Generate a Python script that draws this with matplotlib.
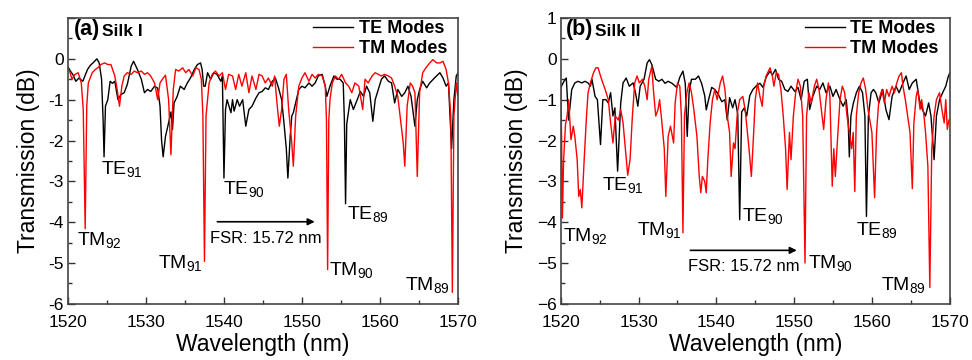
import numpy as np
import matplotlib
matplotlib.use("Agg")
import matplotlib.pyplot as plt

plt.rcParams['font.family'] = ['Liberation Sans', 'DejaVu Sans']
plt.rcParams['mathtext.default'] = 'regular'

#-----------------------
# Data (wavelength nm, transmission dB)
#-----------------------
te_a = [(1520.0,-0.2),(1520.3,-0.3),(1520.6,-0.38),(1521.0,-0.55),(1521.4,-0.47),(1521.9,-0.55),(1522.2,-0.4),
        (1522.5,-0.26),(1522.9,-0.15),(1523.2,-0.1),(1523.7,0.0),(1524.0,-0.1),(1524.3,-0.5),(1524.5,-1.5),
        (1524.62,-2.4),(1524.8,-1.16),(1525.1,-1.0),(1525.4,-0.55),(1525.7,-0.6),(1526.0,-0.55),(1526.4,-1.0),
        (1526.8,-0.87),(1527.2,-0.83),(1527.6,-0.63),(1528.1,-0.18),(1528.4,-0.06),(1528.9,-0.26),(1529.4,-0.5),
        (1529.8,-0.83),(1530.2,-0.75),(1530.6,-0.8),(1531.1,-0.67),(1531.5,-0.72),(1531.8,-1.16),(1532.0,-2.0),
        (1532.2,-2.4),(1532.5,-1.9),(1532.8,-1.65),(1533.2,-1.3),(1533.4,-1.73),(1533.6,-1.08),(1534.0,-0.92),
        (1534.4,-0.67),(1534.9,-0.75),(1535.3,-0.59),(1535.7,-0.47),(1536.2,-0.26),(1536.6,-0.14),(1537.0,-0.1),
        (1537.2,-0.26),(1537.4,-0.67),(1537.6,-0.67),(1537.9,-0.34),(1538.3,-0.5),(1538.7,-0.34),(1539.1,-0.38),
        (1539.6,-0.55),(1539.8,-0.42),(1540.0,-2.92),(1540.2,-1.24),(1540.4,-1.0),(1540.9,-1.32),(1541.1,-1.0),
        (1541.3,-1.28),(1541.7,-1.0),(1542.0,-1.16),(1542.4,-1.0),(1542.8,-1.65),(1543.2,-1.24),(1543.6,-1.16),
        (1544.1,-0.96),(1544.5,-0.83),(1544.9,-0.8),(1545.3,-0.71),(1545.7,-0.75),(1546.2,-0.55),(1546.6,-0.47),
        (1547.0,-0.71),(1547.4,-1.0),(1547.7,-1.57),(1548.0,-2.2),(1548.2,-2.92),(1548.5,-1.9),(1548.7,-1.4),
        (1548.9,-1.32),(1549.2,-1.08),(1549.6,-0.75),(1550.0,-0.67),(1550.4,-0.71),(1550.9,-0.59),(1551.3,-0.67),
        (1551.7,-0.59),(1552.1,-0.42),(1552.6,-0.38),(1553.0,-0.67),(1553.2,-0.92),(1553.6,-0.67),(1554.1,-0.42),
        (1554.5,-0.5),(1554.9,-0.5),(1555.3,-0.59),(1555.45,-1.5),(1555.6,-3.55),(1555.75,-1.6),(1555.9,-1.4),
        (1556.2,-1.0),(1556.6,-1.24),(1557.1,-1.0),(1557.5,-0.8),(1557.9,-0.92),(1558.3,-0.67),(1558.7,-0.83),
        (1559.1,-1.53),(1559.4,-1.0),(1559.8,-0.75),(1560.2,-0.5),(1560.6,-0.42),(1561.1,-0.55),(1561.5,-0.59),
        (1561.9,-1.08),(1562.3,-0.75),(1562.8,-0.92),(1563.2,-0.83),(1563.6,-0.67),(1564.0,-0.92),(1564.5,-1.65),
        (1564.8,-1.0),(1565.1,-0.75),(1565.5,-0.55),(1566.0,-0.71),(1566.4,-0.59),(1567.0,-0.47),(1567.7,-0.34),
        (1568.1,-0.47),(1568.5,-0.67),(1568.8,-0.59),(1569.2,-2.2),(1569.5,-1.0),(1569.8,-0.42),(1570.0,-0.35)]

tm_a = [(1520.0,-0.25),(1520.2,-0.3),(1520.5,-0.5),(1520.9,-0.38),(1521.3,-0.34),(1521.7,-0.59),(1521.95,-1.24),
        (1522.2,-4.16),(1522.4,-1.16),(1522.6,-0.59),(1523.1,-0.34),(1523.5,-0.26),(1523.8,-0.22),(1524.2,-0.14),
        (1524.7,-0.1),(1525.1,-0.14),(1525.5,-0.14),(1526.0,-0.42),(1526.3,-0.75),(1526.6,-1.16),(1526.9,-0.67),
        (1527.2,-0.42),(1527.6,-0.34),(1528.1,-0.38),(1528.5,-0.3),(1528.9,-0.34),(1529.4,-0.3),(1529.8,-0.38),
        (1530.2,-0.34),(1530.6,-0.42),(1531.1,-0.59),(1531.5,-1.0),(1531.8,-0.59),(1532.1,-0.5),(1532.5,-0.4),
        (1532.9,-1.0),(1533.2,-2.35),(1533.5,-0.75),(1533.8,-0.26),(1534.2,-0.3),(1534.7,-0.22),(1535.1,-0.34),
        (1535.5,-0.26),(1536.0,-0.42),(1536.4,-0.22),(1536.8,-0.26),(1537.1,-0.5),(1537.3,-1.4),(1537.5,-4.96),
        (1537.7,-1.4),(1538.1,-0.59),(1538.5,-0.38),(1538.9,-0.3),(1539.4,-0.42),(1539.8,-0.34),(1540.2,-0.75),
        (1540.6,-0.38),(1541.1,-0.42),(1541.5,-0.75),(1541.9,-0.38),(1542.3,-0.67),(1542.8,-0.34),(1543.2,-0.83),
        (1543.6,-0.42),(1544.1,-0.75),(1544.5,-0.38),(1544.9,-0.42),(1545.3,-0.59),(1545.7,-0.47),(1546.2,-0.67),
        (1546.5,-0.42),(1546.8,-1.08),(1547.1,-1.65),(1547.4,-1.24),(1547.7,-0.5),(1548.0,-0.38),(1548.3,-1.24),
        (1548.7,-2.06),(1548.9,-2.63),(1549.2,-1.4),(1549.6,-0.67),(1550.0,-0.47),(1550.4,-0.34),(1550.9,-0.55),
        (1551.3,-0.38),(1551.7,-0.47),(1552.1,-0.38),(1552.6,-0.42),(1553.0,-0.67),(1553.15,-1.5),(1553.3,-5.16),
        (1553.45,-1.5),(1553.6,-1.0),(1553.9,-0.59),(1554.3,-0.42),(1554.7,-0.5),(1555.1,-0.38),(1555.6,-0.59),
        (1556.0,-0.67),(1556.4,-0.83),(1556.8,-0.59),(1557.3,-0.67),(1557.8,-1.24),(1558.1,-0.5),(1558.5,-0.59),
        (1559.0,-0.42),(1559.4,-0.34),(1559.8,-0.38),(1560.2,-0.42),(1560.6,-0.38),(1561.1,-0.42),(1561.5,-0.47),
        (1561.9,-0.67),(1562.3,-0.92),(1562.6,-1.4),(1563.0,-2.06),(1563.2,-2.63),(1563.5,-1.16),(1563.9,-0.59),
        (1564.2,-0.67),(1564.5,-0.83),(1564.8,-2.88),(1565.1,-0.83),(1565.5,-0.34),(1565.9,-0.22),(1566.4,-0.1),
        (1566.8,-0.02),(1567.3,-0.1),(1567.7,-0.1),(1568.1,-0.06),(1568.5,-0.26),(1568.8,-0.59),(1569.1,-1.4),
        (1569.3,-5.72),(1569.5,-1.4),(1569.8,-0.59),(1570.0,-0.9)]

te_b = [(1520.0,-0.7),(1520.4,-0.55),(1520.7,-0.47),(1521.0,-1.5),(1521.4,-0.75),(1521.8,-0.59),(1522.2,-0.55),
        (1522.7,-0.59),(1523.1,-0.55),(1523.5,-0.59),(1523.8,-0.67),(1524.0,-0.5),(1524.4,-0.92),(1524.7,-1.0),
        (1525.1,-2.1),(1525.4,-1.0),(1525.8,-1.0),(1526.1,-1.08),(1526.4,-0.83),(1526.7,-1.4),(1526.95,-1.2),
        (1527.3,-2.75),(1527.7,-1.08),(1528.0,-0.59),(1528.4,-0.47),(1528.8,-0.67),(1529.3,-0.59),(1529.6,-0.83),
        (1529.9,-1.16),(1530.2,-0.67),(1530.7,-0.5),(1531.1,-0.1),(1531.4,-0.02),(1531.7,-0.14),(1532.2,-0.5),
        (1532.6,-0.55),(1533.0,-0.5),(1533.4,-0.6),(1533.8,-0.55),(1534.3,-0.6),(1534.9,-0.7),(1535.3,-0.45),
        (1535.7,-0.3),(1536.0,-0.6),(1536.25,-1.9),(1536.5,-0.8),(1536.8,-0.5),(1537.3,-0.5),(1537.7,-0.42),
        (1538.1,-0.6),(1538.5,-0.9),(1538.7,-1.25),(1539.0,-1.0),(1539.4,-0.7),(1539.8,-0.75),(1540.2,-0.85),
        (1540.7,-1.05),(1541.1,-1.0),(1541.4,-1.5),(1541.7,-0.95),(1542.1,-1.2),(1542.4,-1.0),(1542.75,-1.35),
        (1543.0,-3.94),(1543.25,-1.3),(1543.6,-1.2),(1543.9,-1.4),(1544.3,-0.9),(1544.7,-0.75),(1545.2,-0.65),
        (1545.6,-0.6),(1546.0,-0.7),(1546.4,-0.45),(1546.9,-0.3),(1547.2,-0.4),(1547.6,-0.26),(1548.0,-0.5),
        (1548.4,-0.55),(1548.8,-0.75),(1549.2,-0.8),(1549.6,-0.67),(1550.1,-0.8),(1550.5,-0.7),(1550.9,-1.0),
        (1551.3,-0.55),(1551.7,-0.5),(1552.0,-1.24),(1552.4,-0.92),(1552.9,-0.67),(1553.3,-0.75),(1553.7,-0.59),
        (1554.1,-0.83),(1554.6,-0.67),(1555.0,-0.92),(1555.4,-0.75),(1555.9,-1.0),(1556.3,-1.16),(1556.7,-1.0),
        (1556.95,-1.5),(1557.1,-2.4),(1557.3,-1.4),(1557.6,-1.1),(1558.0,-0.83),(1558.4,-0.67),(1558.8,-0.83),
        (1559.1,-1.4),(1559.3,-3.86),(1559.55,-1.4),(1559.9,-0.83),(1560.2,-0.75),(1560.5,-0.83),(1560.9,-1.08),
        (1561.4,-0.75),(1561.8,-1.24),(1562.2,-1.49),(1562.6,-0.92),(1563.1,-0.67),(1563.5,-0.83),(1564.0,-0.59),
        (1564.4,-0.42),(1564.8,-0.75),(1565.2,-0.59),(1565.7,-0.5),(1566.1,-1.0),(1566.5,-1.24),(1566.9,-1.4),
        (1567.3,-1.08),(1567.6,-1.4),(1568.0,-2.47),(1568.3,-1.4),(1568.7,-1.0),(1569.1,-0.83),(1569.5,-0.67),
        (1569.8,-0.45),(1570.0,-0.35)]

tm_b = [(1520.0,-0.7),(1520.1,-2.0),(1520.2,-3.9),(1520.35,-2.5),(1520.6,-1.6),(1520.8,-1.4),(1521.0,-1.0),
        (1521.3,-1.98),(1521.6,-1.65),(1521.8,-1.9),(1522.1,-2.47),(1522.3,-3.37),(1522.5,-3.2),(1522.7,-3.65),
        (1523.0,-2.47),(1523.3,-1.4),(1523.5,-0.83),(1523.8,-0.59),(1524.2,-0.34),(1524.5,-0.22),(1524.8,-0.22),
        (1525.1,-0.42),(1525.4,-0.59),(1525.7,-0.75),(1526.1,-1.0),(1526.4,-1.57),(1526.7,-2.06),(1527.0,-1.4),
        (1527.4,-1.5),(1527.7,-1.24),(1528.0,-1.57),(1528.3,-2.2),(1528.6,-2.85),(1528.9,-2.47),(1529.2,-1.4),
        (1529.5,-0.59),(1529.8,-0.42),(1530.1,-0.59),(1530.5,-0.5),(1530.8,-0.67),(1531.1,-1.0),(1531.3,-0.5),
        (1531.7,-0.18),(1531.9,-0.75),(1532.2,-1.4),(1532.5,-1.24),(1532.7,-1.0),(1533.0,-1.57),(1533.3,-2.2),
        (1533.5,-3.37),(1533.8,-1.9),(1534.1,-1.65),(1534.5,-2.06),(1534.7,-1.08),(1535.0,-0.59),(1535.3,-0.67),
        (1535.5,-1.4),(1535.7,-4.26),(1535.9,-1.4),(1536.2,-0.83),(1536.5,-0.59),(1536.8,-0.83),(1537.1,-1.24),
        (1537.5,-1.9),(1537.8,-2.88),(1538.0,-3.28),(1538.2,-2.88),(1538.5,-3.0),(1538.7,-3.28),(1538.9,-2.47),
        (1539.2,-1.57),(1539.5,-1.0),(1539.8,-0.75),(1540.1,-1.0),(1540.5,-0.59),(1540.8,-0.42),(1541.1,-0.75),
        (1541.4,-1.4),(1541.7,-1.8),(1541.9,-2.88),(1542.2,-2.06),(1542.4,-2.2),(1542.7,-1.32),(1543.0,-1.0),
        (1543.4,-0.92),(1543.7,-1.24),(1544.0,-1.8),(1544.2,-2.2),(1544.5,-2.88),(1544.8,-1.8),(1545.0,-1.0),
        (1545.3,-0.59),(1545.6,-0.92),(1545.9,-1.16),(1546.1,-0.67),(1546.4,-0.42),(1546.9,-0.22),(1547.2,-0.42),
        (1547.4,-0.67),(1547.7,-0.34),(1548.0,-0.38),(1548.3,-0.75),(1548.6,-1.4),(1548.9,-2.2),(1549.1,-3.2),
        (1549.4,-1.8),(1549.6,-2.47),(1549.9,-1.4),(1550.2,-0.83),(1550.5,-0.5),(1550.8,-0.67),(1551.1,-1.4),
        (1551.4,-5.0),(1551.6,-1.4),(1551.9,-0.83),(1552.2,-1.08),(1552.6,-0.67),(1552.9,-0.5),(1553.2,-0.75),
        (1553.5,-1.24),(1553.8,-1.73),(1554.1,-1.0),(1554.4,-0.59),(1554.6,-0.92),(1554.9,-3.12),(1555.1,-2.2),
        (1555.3,-2.88),(1555.6,-1.9),(1555.9,-1.0),(1556.2,-0.67),(1556.5,-0.83),(1556.8,-1.4),(1557.1,-1.8),
        (1557.4,-2.2),(1557.6,-1.8),(1557.8,-3.25),(1558.0,-1.4),(1558.3,-0.83),(1558.6,-0.59),(1558.9,-0.47),
        (1559.2,-0.75),(1559.5,-1.24),(1559.8,-1.57),(1560.0,-1.8),(1560.35,-3.4),(1560.6,-1.8),(1560.9,-1.0),
        (1561.3,-0.75),(1561.6,-1.08),(1561.9,-0.75),(1562.2,-0.92),(1562.6,-0.67),(1562.9,-0.83),(1563.2,-0.59),
        (1563.5,-0.42),(1563.8,-0.34),(1564.0,-0.67),(1564.3,-1.0),(1564.6,-1.4),(1564.9,-1.8),(1565.2,-3.18),
        (1565.4,-1.57),(1565.7,-0.92),(1565.9,-0.75),(1566.2,-1.24),(1566.4,-1.0),(1566.7,-1.4),(1566.9,-1.8),
        (1567.2,-2.63),(1567.45,-5.6),(1567.7,-2.2),(1568.0,-1.4),(1568.3,-1.0),(1568.7,-0.83),(1569.0,-1.24),
        (1569.3,-1.57),(1569.5,-1.0),(1569.7,-1.73),(1569.9,-1.5)]

# mode labels: (text, x, y, ha)
labels_a = [("TM$_{92}$", 1521.2, -4.2, "left"), ("TE$_{91}$", 1524.2, -2.45, "left"),
            ("TM$_{91}$", 1537.3, -4.75, "right"), ("TE$_{90}$", 1539.9, -2.95, "left"),
            ("TM$_{90}$", 1553.5, -4.92, "left"), ("TE$_{89}$", 1555.8, -3.55, "left"),
            ("TM$_{89}$", 1569.0, -5.3, "right")]
labels_b = [("TM$_{92}$", 1520.3, -4.1, "left"), ("TE$_{91}$", 1525.3, -2.85, "left"),
            ("TM$_{91}$", 1535.6, -3.95, "right"), ("TE$_{90}$", 1543.3, -3.6, "left"),
            ("TM$_{90}$", 1551.8, -4.75, "left"), ("TE$_{89}$", 1558.0, -3.95, "left"),
            ("TM$_{89}$", 1567.0, -5.3, "right")]

# FSR arrow: (x start, x end, y, text y)
fsr_a = (1538.8, 1552.0, -3.99, -4.4)
fsr_b = (1536.3, 1550.7, -4.69, -5.09)

panels = [("(a)", "Silk I", te_a, tm_a, labels_a, fsr_a, [0.07, 0.156, 0.401, 0.794]),
          ("(b)", "Silk II", te_b, tm_b, labels_b, fsr_b, [0.577, 0.156, 0.400, 0.794])]

fig = plt.figure(figsize=(9.72, 3.6), dpi=100)

for tag, name, te, tm, labs, fsr, rect in panels:
    ax = fig.add_axes(rect)
    te = np.array(te).T
    tm = np.array(tm).T
    ax.plot(te[0], te[1], color="black", lw=1.0, label="TE Modes")
    ax.plot(tm[0], tm[1], color="red", lw=1.0, label="TM Modes")

    ax.set_xlim(1520, 1570)
    ax.set_ylim(-6, 1)
    ax.set_xticks(np.arange(1520, 1571, 10))
    ax.set_xticks(np.arange(1525, 1570, 10), minor=True)
    ax.set_yticks(np.arange(-6, 2, 1))
    ax.set_yticks(np.arange(-5.5, 1, 1), minor=True)
    if tag == "(a)":
        ax.set_yticklabels(["-6", "-5", "-4", "-3", "-2", "-1", "0", ""])
    ax.tick_params(which="major", direction="in", length=5, width=1, labelsize=12.5, colors="#333333",
                   labelcolor="black")
    ax.tick_params(axis="x", which="major", pad=8)
    ax.tick_params(axis="y", which="major", pad=3)
    ax.tick_params(which="minor", direction="in", length=3, width=1, colors="#333333")
    for s in ax.spines.values():
        s.set_color("#444444")
        s.set_linewidth(1.2)

    ax.set_xlabel("Wavelength (nm)", fontsize=16.5, labelpad=2)
    ax.set_ylabel("Transmission (dB)", fontsize=16.5, labelpad=6)

    ax.text(1520.7, 0.72, tag, fontsize=15.5, fontweight="bold", va="center")
    ax.text(1524.4, 0.68, name, fontsize=12.5, fontweight="bold", va="center")

    ax.legend(loc="upper right", frameon=False, prop={"weight": "bold", "size": 13},
              handlelength=2.2, handletextpad=0.3, labelspacing=0.15, borderaxespad=0.2,
              bbox_to_anchor=(1.0, 1.03))

    for txt, x, y, ha in labs:
        ax.text(x, y, txt, fontsize=14, ha=ha, va="top")

    ax.annotate("", xy=(fsr[1], fsr[2]), xytext=(fsr[0], fsr[2]),
                arrowprops=dict(arrowstyle="-|>", color="black", lw=1.2, mutation_scale=10))
    ax.text((fsr[0] + fsr[1]) / 2, fsr[3], "FSR: 15.72 nm", fontsize=12, ha="center", va="center")

fig.savefig("out.png", dpi=100)
